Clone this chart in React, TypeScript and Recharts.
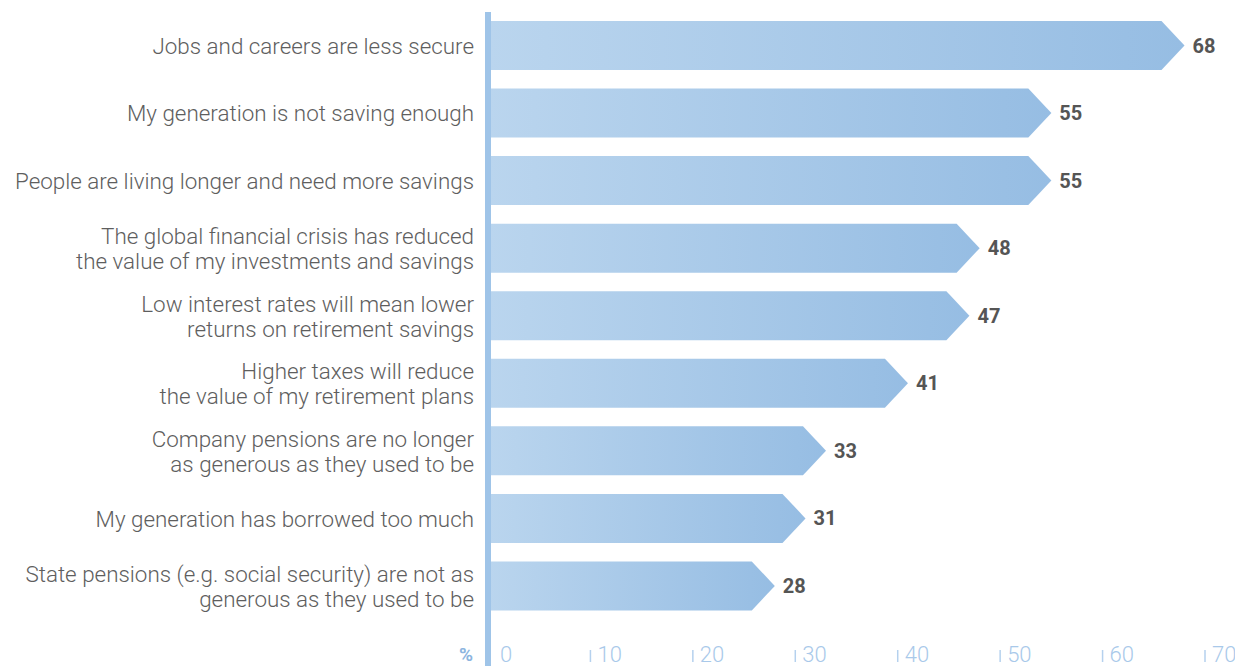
import { Bar, BarChart, LabelList, XAxis, YAxis } from "recharts";

const reasons = [
  "Jobs and careers are less secure",
  "My generation is not saving enough",
  "People are living longer and need more savings",
  "The global financial crisis has reduced\nthe value of my investments and savings",
  "Low interest rates will mean lower\nreturns on retirement savings",
  "Higher taxes will reduce\nthe value of my retirement plans",
  "Company pensions are no longer\nas generous as they used to be",
  "My generation has borrowed too much",
  "State pensions (e.g. social security) are not as\ngenerous as they used to be",
];
const shares = [68, 55, 55, 48, 47, 41, 33, 31, 28];
const pctTicks = [0, 10, 20, 30, 40, 50, 60, 70];

const rows = reasons.map((reason, i) => ({ reason, share: shares[i] }));

const font = "Roboto, 'Liberation Sans', sans-serif";
const axisBlue = "#9fc4e8";

function ArrowBar(props: any) {
  const { x, y, width, height } = props;
  const tip = Math.min(height * 0.47, width);
  const neck = x + width - tip;
  const d = `M${x},${y}H${neck}L${x + width},${y + height / 2}L${neck},${y + height}H${x}Z`;
  return <path d={d} fill="url(#barFade)" />;
}

function ReasonTick({ x, y, payload }: any) {
  const lines = String(payload.value).split("\n");
  const top = y - ((lines.length - 1) * 25) / 2;
  return (
    <text x={x} y={top} textAnchor="end" fontFamily={font} fontWeight={300} fontSize={22.4} fill="#5e5e5e">
      {lines.map((line, i) => (
        <tspan key={i} x={x} y={top + i * 25} dy="0.36em">
          {line}
        </tspan>
      ))}
    </text>
  );
}

// bottom axis: "%" marker, small tick bars, and the left rule carried down to the page edge
function PctTick({ x, y, payload }: any) {
  const base = y + 42;
  const zero = payload.value === 0;
  return (
    <g>
      {zero && <line x1={x} x2={x} y1={y - 12} y2={y + 50} stroke={axisBlue} strokeWidth={6} />}
      {zero && (
        <text x={x - 15} y={base - 1} textAnchor="end" fontFamily={font} fontWeight="bold" fontSize={19} fill="#8db5df">
          %
        </text>
      )}
      {!zero && <line x1={x} x2={x} y1={base - 12} y2={base} stroke="#b5d1ee" strokeWidth={1.5} />}
      <text x={x + (zero ? 12 : 7)} y={base} fontFamily={font} fontWeight={300} fontSize={22} fill="#a9c9ea">
        {payload.value}
      </text>
    </g>
  );
}

export default function App() {
  return (
    <div style={{ position: "absolute", left: 0, top: 0, background: "#fff" }}>
      <BarChart
        width={1235}
        height={666}
        data={rows}
        layout="vertical"
        margin={{ top: 12, right: 30, bottom: 0, left: 0 }}
      >
        <defs>
          <linearGradient id="barFade" x1="0" y1="0" x2="1" y2="0">
            <stop offset="0" stopColor="#bad5ee" />
            <stop offset="1" stopColor="#96bde3" />
          </linearGradient>
        </defs>
        <XAxis
          type="number"
          domain={[0, 70]}
          ticks={pctTicks}
          height={46}
          axisLine={false}
          tickLine={false}
          tickSize={0}
          tickMargin={0}
          tick={<PctTick />}
          interval={0}
        />
        <YAxis
          type="category"
          dataKey="reason"
          width={488}
          axisLine={{ stroke: axisBlue, strokeWidth: 6 }}
          tickLine={false}
          tickSize={0}
          tickMargin={14}
          tick={<ReasonTick />}
          interval={0}
        />
        <Bar dataKey="share" barSize={49} shape={<ArrowBar />} isAnimationActive={false}>
          <LabelList dataKey="share" position="right" offset={8} fill="#555" fontFamily={font} fontWeight="bold" fontSize={20} />
        </Bar>
      </BarChart>
    </div>
  );
}
